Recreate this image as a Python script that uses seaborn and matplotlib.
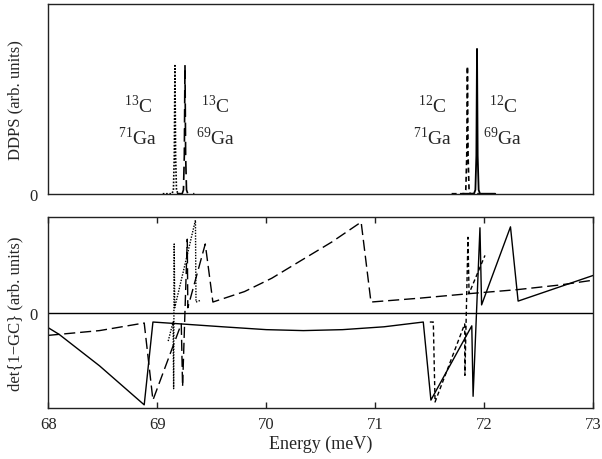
import numpy as np
import pandas as pd
import matplotlib
matplotlib.use("Agg")
import matplotlib.pyplot as plt
import seaborn as sns

# ---- data ----
# top panel: DDPS peaks (energy in meV, height arb. units)
peak_c13_ga71_x = [69.05, 69.135, 69.148, 69.156, 69.162, 69.168, 69.176, 69.19, 69.22]
peak_c13_ga71_y = [0.0, 0.0, 0.02, 0.2, 0.674, 0.2, 0.02, 0.0, 0.0]
peak_c13_ga69_x = [69.18, 69.228, 69.240, 69.248, 69.254, 69.260, 69.268, 69.28, 69.34]
peak_c13_ga69_y = [0.0, 0.0, 0.02, 0.2, 0.677, 0.2, 0.02, 0.0, 0.0]
peak_c12_ga71_x = [71.70, 71.818, 71.830, 71.839, 71.845, 71.851, 71.860, 71.87, 71.95]
peak_c12_ga71_y = [0.0, 0.0, 0.02, 0.2, 0.670, 0.2, 0.02, 0.0, 0.0]
peak_c12_ga69_x = [71.80, 71.905, 71.918, 71.927, 71.933, 71.939, 71.948, 71.96, 72.10]
peak_c12_ga69_y = [0.0, 0.0, 0.02, 0.2, 0.762, 0.2, 0.02, 0.0, 0.0]

# bottom panel: det{1-GC}
det_c12_ga69_x = [68.00, 68.10, 68.47, 68.88, 68.96, 69.22, 69.60, 70.00, 70.34, 70.70,
                  71.08, 71.44, 71.51, 71.885, 71.897, 71.96, 71.975, 72.24, 72.31, 73.00]
det_c12_ga69_y = [-0.16, -0.23, -0.56, -0.97, -0.10, -0.12, -0.15, -0.18, -0.19, -0.18,
                  -0.15, -0.10, -0.92, -0.14, -0.88, 0.89, 0.08, 0.90, 0.12, 0.39]
det_c13_ga69_x = [68.00, 68.47, 68.88, 68.96, 69.22, 69.232, 69.275, 69.28, 69.44, 69.51,
                  69.80, 70.05, 70.31, 70.60, 70.87, 70.96, 71.40, 71.88, 72.30, 72.70, 73.00]
det_c13_ga69_y = [-0.24, -0.19, -0.11, -0.92, -0.12, -0.78, 0.77, 0.05, 0.72, 0.11,
                  0.22, 0.36, 0.54, 0.74, 0.95, 0.11, 0.15, 0.20, 0.24, 0.29, 0.34]
det_c12_ga71_x = [71.50, 71.532, 71.548, 71.82, 71.822, 71.85, 71.86, 72.006]
det_c12_ga71_y = [-0.10, -0.10, -0.94, -0.12, -0.66, 0.79, 0.20, 0.60]
det_c13_ga71_x = [69.10, 69.145, 69.150, 69.155, 69.16, 69.35, 69.355, 69.40]
det_c13_ga71_y = [-0.30, -0.10, -0.80, 0.72, 0.05, 0.97, 0.11, 0.13]

xticks = [68, 69, 70, 71, 72, 73]

# ---- style ----
sns.set_theme(style="white")
plt.rcParams["font.family"] = ["Liberation Serif", "DejaVu Serif"]
plt.rcParams["mathtext.fontset"] = "custom"
plt.rcParams["mathtext.rm"] = "Liberation Serif"
plt.rcParams["axes.edgecolor"] = "#222222"
plt.rcParams["axes.linewidth"] = 1.0

solid = "-"
long_dash = (0, (8, 3.5))
short_dash = (0, (3, 2))
dotted = (0, (1, 1))

fig = plt.figure(figsize=(6.02, 4.6), dpi=100)
ax1 = fig.add_axes([0.0802, 0.5767, 0.9054, 0.4131])
ax2 = fig.add_axes([0.0802, 0.1115, 0.9054, 0.4139])


def draw(ax, x, y, ls, lw=1.0):
    sns.lineplot(x=x, y=y, ax=ax, color="black", linestyle=ls, linewidth=lw,
                 sort=False, estimator=None)


# top panel
draw(ax1, peak_c13_ga71_x, peak_c13_ga71_y, dotted, 1.2)
draw(ax1, peak_c13_ga69_x, peak_c13_ga69_y, long_dash, 1.2)
draw(ax1, peak_c12_ga71_x, peak_c12_ga71_y, short_dash, 1.2)
draw(ax1, peak_c12_ga69_x, peak_c12_ga69_y, solid, 1.3)
ax1.set_xlim(68, 73)
ax1.set_ylim(0, 1)
ax1.set_xticks([])
ax1.set_yticks([0])
ax1.tick_params(axis="y", length=0, labelsize=12, pad=8)
ax1.set_ylabel("DDPS (arb. units)", fontsize=12, labelpad=4)

labels = [(68.82, r"$^{13}$C", r"$^{71}$Ga"), (69.53, r"$^{13}$C", r"$^{69}$Ga"),
          (71.52, r"$^{12}$C", r"$^{71}$Ga"), (72.17, r"$^{12}$C", r"$^{69}$Ga")]
for lx, top, bot in labels:
    ax1.text(lx, 0.47, top, fontsize=14, ha="center", va="center")
    ax1.text(lx, 0.30, bot, fontsize=14, ha="center", va="center")

# bottom panel
ax2.axhline(0, color="black", linewidth=1.0)
draw(ax2, det_c12_ga69_x, det_c12_ga69_y, solid)
draw(ax2, det_c13_ga69_x, det_c13_ga69_y, long_dash)
draw(ax2, det_c12_ga71_x, det_c12_ga71_y, short_dash)
draw(ax2, det_c13_ga71_x, det_c13_ga71_y, dotted)
ax2.set_xlim(68, 73)
ax2.set_ylim(-1, 1)
ax2.set_xticks(xticks)
ax2.set_yticks([0])
ax2.tick_params(axis="x", direction="in", top=True, bottom=True, length=4,
                width=1.0, labelsize=12, pad=6, color="#222222")
ax2.tick_params(axis="y", length=0, labelsize=12, pad=8)
ax2.set_xlabel("Energy (meV)", fontsize=13, labelpad=2)
ax2.set_ylabel("det{1\u2212GC} (arb. units)", fontsize=12, labelpad=4)

for ax in (ax1, ax2):
    for s in ax.spines.values():
        s.set_visible(True)
        s.set_color("#222222")
    if ax.get_legend() is not None:
        ax.get_legend().remove()

fig.savefig("out.png", dpi=100)
